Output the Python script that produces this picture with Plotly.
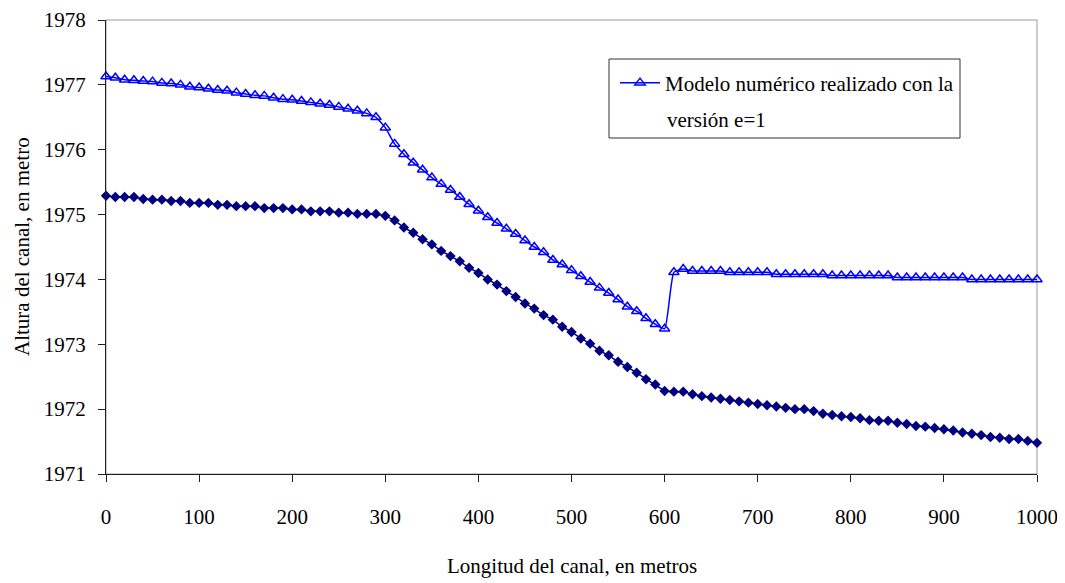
import plotly.graph_objects as go

# Distance along the channel (m)
longitud = list(range(0, 1001, 10))

# Numerical model, version e=1 (blue triangles)
modelo_e1 = [
    1977.13, 1977.11, 1977.08, 1977.07, 1977.06, 1977.05, 1977.03, 1977.02, 1977.00, 1976.97,
    1976.96, 1976.94, 1976.92, 1976.91, 1976.88, 1976.86, 1976.84, 1976.83, 1976.80, 1976.78,
    1976.77, 1976.75, 1976.73, 1976.71, 1976.69, 1976.66, 1976.63, 1976.60, 1976.56, 1976.50,
    1976.34, 1976.09, 1975.93, 1975.80, 1975.69, 1975.57, 1975.47, 1975.38, 1975.27, 1975.16,
    1975.06, 1974.96, 1974.87, 1974.78, 1974.70, 1974.60, 1974.50, 1974.42, 1974.30, 1974.23,
    1974.14, 1974.05, 1973.96, 1973.87, 1973.79, 1973.69, 1973.58, 1973.51, 1973.40, 1973.31,
    1973.24, 1974.11, 1974.16, 1974.13, 1974.13, 1974.13, 1974.13, 1974.11, 1974.11, 1974.11,
    1974.11, 1974.11, 1974.08, 1974.08, 1974.08, 1974.08, 1974.08, 1974.08, 1974.06, 1974.06,
    1974.06, 1974.06, 1974.06, 1974.06, 1974.06, 1974.03, 1974.03, 1974.03, 1974.03, 1974.03,
    1974.03, 1974.03, 1974.03, 1974.00, 1974.00, 1974.00, 1974.00, 1974.00, 1974.00, 1974.00,
    1974.00,
]

# Channel bed (navy diamonds)
fondo_canal = [
    1975.29, 1975.27, 1975.27, 1975.27, 1975.24, 1975.23, 1975.23, 1975.21, 1975.21, 1975.18,
    1975.18, 1975.18, 1975.15, 1975.15, 1975.13, 1975.13, 1975.13, 1975.10, 1975.10, 1975.10,
    1975.08, 1975.08, 1975.05, 1975.05, 1975.05, 1975.03, 1975.03, 1975.01, 1975.01, 1975.01,
    1974.98, 1974.91, 1974.80, 1974.72, 1974.62, 1974.54, 1974.44, 1974.36, 1974.28, 1974.18,
    1974.10, 1974.00, 1973.92, 1973.82, 1973.73, 1973.63, 1973.55, 1973.45, 1973.38, 1973.27,
    1973.19, 1973.09, 1973.01, 1972.90, 1972.83, 1972.73, 1972.65, 1972.56, 1972.46, 1972.38,
    1972.28, 1972.27, 1972.27, 1972.23, 1972.20, 1972.18, 1972.16, 1972.14, 1972.12, 1972.10,
    1972.08, 1972.06, 1972.04, 1972.02, 1972.00, 1972.00, 1971.97, 1971.93, 1971.91, 1971.89,
    1971.88, 1971.86, 1971.83, 1971.82, 1971.82, 1971.79, 1971.77, 1971.74, 1971.73, 1971.71,
    1971.69, 1971.67, 1971.64, 1971.62, 1971.60, 1971.57, 1971.56, 1971.54, 1971.54, 1971.51,
    1971.48,
]

x_ticks = [0, 100, 200, 300, 400, 500, 600, 700, 800, 900, 1000]
y_ticks = [1971, 1972, 1973, 1974, 1975, 1976, 1977, 1978]

legend_line1 = "Modelo numérico realizado con la"
legend_line2 = "versión e=1"
x_title = "Longitud del canal, en metros"
y_title = "Altura del canal, en metro"

FONT = "Liberation Serif"
FS = 21

fig = go.Figure()
fig.add_trace(go.Scatter(
    x=longitud, y=fondo_canal, mode="lines+markers", showlegend=False,
    line=dict(color="#000080", width=1.5),
    marker=dict(symbol="diamond", size=8, color="#000080"),
    cliponaxis=False,
))
fig.add_trace(go.Scatter(
    x=longitud, y=modelo_e1, mode="lines+markers", name=legend_line1,
    line=dict(color="#0000FF", width=1.5, shape="spline", smoothing=0.5),
    marker=dict(symbol="triangle-up-open", size=9, color="#0000FF", line=dict(width=1.5)),
    cliponaxis=False,
))

# The page body adds an 8 px offset; figure is sized to fit the window.
OFF = 8
W, H = 1065 - OFF, 583 - OFF
L, R, T, B = 106 - OFF, 28, 20 - OFF, 109
pw, ph = W - L - R, H - T - B

def px_x(p):  # page pixel -> paper fraction
    return (p - OFF - L) / pw

def px_y(p):
    return (H - B - (p - OFF)) / ph

fig.update_layout(
    width=W, height=H,
    margin=dict(l=L, r=R, t=T, b=B, autoexpand=False),
    paper_bgcolor="white", plot_bgcolor="white",
    font=dict(family=FONT, size=FS, color="black"),
    showlegend=True,
    legend=dict(
        x=px_x(615), y=px_y(83), xanchor="left", yanchor="middle",
        bgcolor="rgba(0,0,0,0)", borderwidth=0,
        font=dict(family=FONT, size=FS, color="black"),
        itemwidth=40, tracegroupgap=0,
    ),
    xaxis=dict(
        range=[0, 1000], tickvals=x_ticks, showgrid=False, zeroline=False,
        showline=True, linecolor="#202020", linewidth=1,
        ticks="outside", ticklen=7, tickcolor="#202020", tickwidth=1,
        ticklabelstandoff=17, tickfont=dict(family=FONT, size=FS),
    ),
    yaxis=dict(
        range=[1971, 1978], tickvals=y_ticks, showgrid=False, zeroline=False,
        showline=True, linecolor="#202020", linewidth=1,
        ticks="outside", ticklen=7, tickcolor="#202020", tickwidth=1,
        ticklabelstandoff=8, tickfont=dict(family=FONT, size=FS),
    ),
    shapes=[
        dict(type="rect", xref="paper", yref="paper", x0=0, x1=1, y0=0, y1=1,
             line=dict(color="#999999", width=1), layer="below"),
        dict(type="rect", xref="paper", yref="paper",
             x0=px_x(609), x1=px_x(960), y0=px_y(138), y1=px_y(59),
             line=dict(color="#333333", width=1), fillcolor="rgba(0,0,0,0)"),
    ],
    annotations=[
        dict(text=legend_line2, xref="paper", yref="paper", x=px_x(665), y=px_y(120),
             xanchor="left", yanchor="middle", showarrow=False,
             font=dict(family=FONT, size=FS)),
        dict(text=x_title, xref="paper", yref="paper", x=px_x(572), y=px_y(566),
             xanchor="center", yanchor="middle", showarrow=False,
             font=dict(family=FONT, size=FS)),
        dict(text=y_title, xref="paper", yref="paper", x=px_x(22), y=px_y(247),
             xanchor="center", yanchor="middle", showarrow=False, textangle=-90,
             font=dict(family=FONT, size=FS)),
    ],
)

fig.write_html("out.html")
